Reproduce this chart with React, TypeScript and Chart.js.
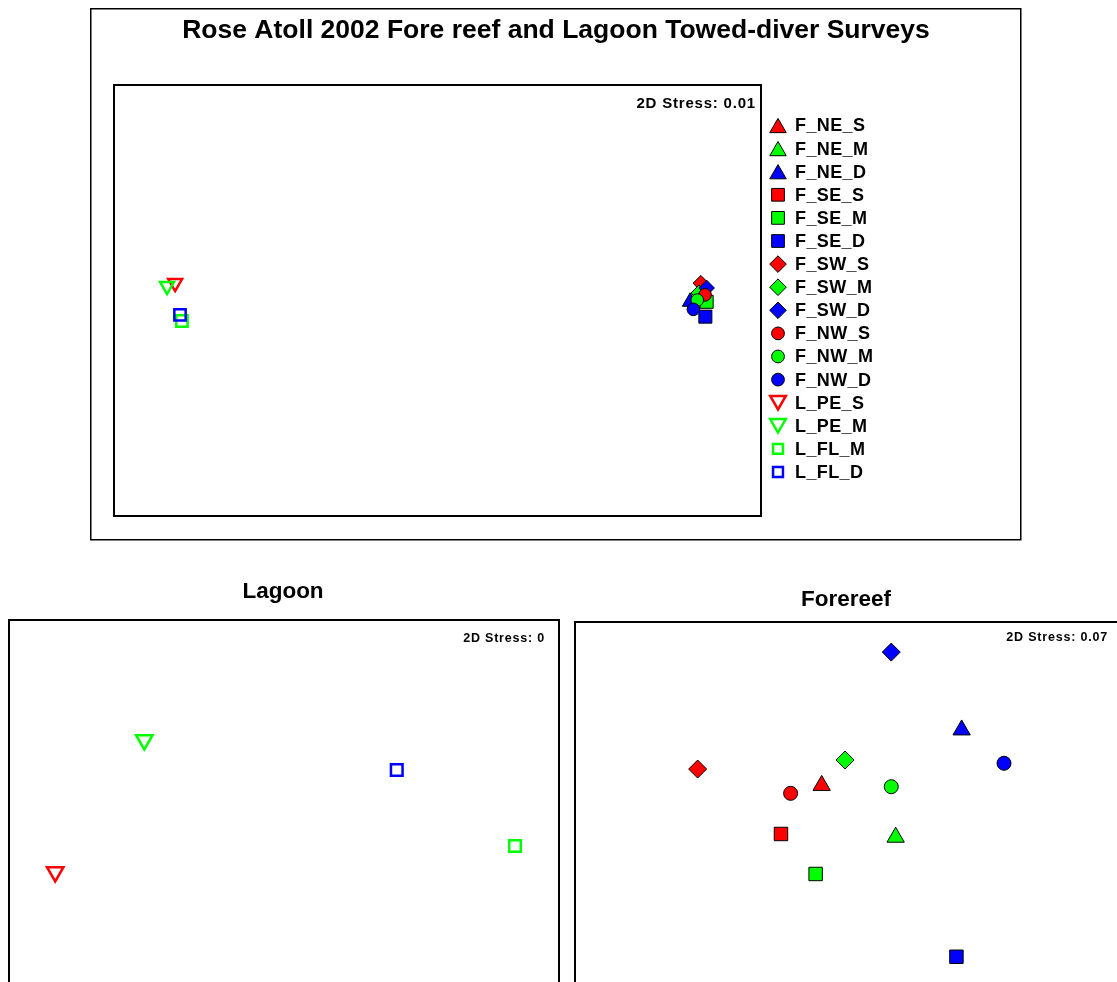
import React, { useEffect, useRef } from 'react';
import { Chart, registerables } from 'chart.js';
import { drawPoint } from 'chart.js/helpers';

Chart.register(...registerables);

const RED = '#ff0000';
const GREEN = '#00ff00';
const BLUE = '#0000ff';

// All sites (combined ordination)
const siteNames = ['F_NE_S', 'F_NE_M', 'F_NE_D', 'F_SE_S', 'F_SE_M', 'F_SE_D', 'F_SW_S', 'F_SW_M', 'F_SW_D', 'F_NW_S', 'F_NW_M', 'F_NW_D', 'L_PE_S', 'L_PE_M', 'L_FL_M', 'L_FL_D'];
const siteColors = [RED, GREEN, BLUE, RED, GREEN, BLUE, RED, GREEN, BLUE, RED, GREEN, BLUE, RED, GREEN, GREEN, BLUE];
const siteShapes = ['triangle', 'triangle', 'triangle', 'rect', 'rect', 'rect', 'rectRot', 'rectRot', 'rectRot', 'circle', 'circle', 'circle', 'triangleDown', 'triangleDown', 'rect', 'rect'];
const siteFilled = [true, true, true, true, true, true, true, true, true, true, true, true, false, false, false, false];

const combinedX = [0.813, 0.805, 0.781, 0.818, 0.832, 0.828, 0.814, 0.808, 0.832, 0.827, 0.803, 0.791, -0.811, -0.836, -0.790, -0.796];
const combinedY = [0.018, -0.004, -0.006, 0.010, -0.006, -0.075, 0.080, 0.035, 0.058, 0.026, 0.002, -0.041, 0.081, 0.067, -0.095, -0.067];

// Lagoon-only ordination
const lagoonNames = ['L_PE_S', 'L_PE_M', 'L_FL_M', 'L_FL_D'];
const lagoonX = [-0.832, -0.508, 0.840, 0.410];
const lagoonY = [-0.172, 0.442, -0.051, 0.302];

// Forereef-only ordination
const forereefNames = ['F_NE_S', 'F_NE_M', 'F_NE_D', 'F_SE_S', 'F_SE_M', 'F_SE_D', 'F_SW_S', 'F_SW_M', 'F_SW_D', 'F_NW_S', 'F_NW_M', 'F_NW_D'];
const forereefX = [-0.103, 0.166, 0.406, -0.251, -0.125, 0.387, -0.554, -0.018, 0.150, -0.216, 0.150, 0.560];
const forereefY = [0.240, -0.001, 0.498, 0.014, -0.172, -0.557, 0.316, 0.358, 0.860, 0.203, 0.234, 0.343];

const stressLabels = ['2D Stress: 0.01', '2D Stress: 0', '2D Stress: 0.07'];
const titles = ['Rose Atoll 2002 Fore reef and Lagoon Towed-diver Surveys', 'Lagoon', 'Forereef'];

const FONT = '"Liberation Sans", Arial, Helvetica, sans-serif';

type Sizes = { triangle: number; rect: number; rectRot: number; circle: number; triangleDown: number; openRect: number };

function styleFor(name: string, sizes: Sizes) {
  const i = siteNames.indexOf(name);
  const shape = siteShapes[i];
  const filled = siteFilled[i];
  const color = siteColors[i];
  let pointStyle = shape;
  let rotation = 0;
  let radius = 6;
  if (shape === 'triangleDown') { pointStyle = 'triangle'; rotation = 180; radius = sizes.triangleDown; }
  else if (shape === 'rect') radius = filled ? sizes.rect : sizes.openRect;
  else radius = (sizes as any)[shape];
  return {
    pointStyle,
    rotation,
    radius,
    backgroundColor: filled ? color : 'rgba(0,0,0,0)',
    borderColor: filled ? '#000000' : color,
    borderWidth: filled ? 1 : 2.5,
  };
}

function makeDatasets(names: string[], xs: number[], ys: number[], sizes: Sizes) {
  return names.map((n, i) => {
    const s = styleFor(n, sizes);
    return {
      label: n,
      order: names.length - i,
      data: [{ x: xs[i], y: ys[i] }],
      pointStyle: s.pointStyle,
      rotation: s.rotation,
      pointRotation: s.rotation,
      pointRadius: s.radius,
      pointHoverRadius: s.radius,
      backgroundColor: s.backgroundColor,
      borderColor: s.borderColor,
      borderWidth: s.borderWidth,
      pointBorderWidth: s.borderWidth,
    };
  });
}

const decorPlugin = {
  id: 'decor',
  afterDraw(chart: any, _args: any, opts: any) {
    const ctx = chart.ctx;
    const a = chart.chartArea;
    ctx.save();
    ctx.strokeStyle = '#000';
    ctx.lineWidth = 2;
    ctx.strokeRect(a.left, a.top, a.right - a.left, a.bottom - a.top);
    if (opts.outer) {
      ctx.lineWidth = 1.5;
      ctx.strokeRect(opts.outer[0], opts.outer[1], opts.outer[2], opts.outer[3]);
    }
    ctx.fillStyle = '#000';
    if (opts.title) {
      ctx.font = opts.title.font;
      ctx.textAlign = 'center';
      ctx.textBaseline = 'alphabetic';
      (ctx as any).letterSpacing = opts.title.spacing || '0px';
      ctx.fillText(opts.title.text, opts.title.x, opts.title.y);
    }
    if (opts.stress) {
      ctx.font = opts.stress.font;
      ctx.textAlign = 'right';
      ctx.textBaseline = 'alphabetic';
      (ctx as any).letterSpacing = opts.stress.spacing || '0.8px';
      ctx.fillText(opts.stress.text, opts.stress.x, opts.stress.y);
    }
    if (opts.legend) {
      const L = opts.legend;
      siteNames.forEach((n, i) => {
        const y = L.y0 + L.step * i;
        const s = styleFor(n, L.sizes);
        ctx.fillStyle = s.backgroundColor;
        ctx.strokeStyle = s.borderColor;
        ctx.lineWidth = s.borderWidth;
        const dy = s.pointStyle === 'triangle' ? (s.rotation ? -s.radius / 4 : s.radius / 4) : 0;
        drawPoint(ctx, { pointStyle: s.pointStyle, rotation: s.rotation, radius: s.radius, borderWidth: s.borderWidth } as any, L.mx, y + dy);
        ctx.fillStyle = '#000';
        ctx.font = L.font;
        ctx.textAlign = 'left';
        ctx.textBaseline = 'middle';
        (ctx as any).letterSpacing = '0.4px';
        ctx.fillText(n, L.tx, y + 1);
      });
    }
    ctx.restore();
  },
};

function baseOptions(padding: any, decor: any) {
  return {
    responsive: false,
    animation: false as const,
    events: [],
    layout: { padding, autoPadding: false },
    scales: {
      x: { type: 'linear' as const, min: -1, max: 1, display: false },
      y: { type: 'linear' as const, min: -1, max: 1, display: false },
    },
    plugins: {
      legend: { display: false },
      tooltip: { enabled: false },
      title: { display: false },
      decor,
    },
  };
}

function ScatterCanvas(props: { left: number; top: number; width: number; height: number; build: () => any }) {
  const ref = useRef<HTMLCanvasElement | null>(null);
  useEffect(() => {
    if (!ref.current) return;
    const chart = new Chart(ref.current, props.build());
    return () => chart.destroy();
  }, []);
  return (
    <canvas
      ref={ref}
      width={props.width}
      height={props.height}
      style={{ position: 'absolute', left: props.left, top: props.top, width: props.width, height: props.height }}
    />
  );
}

const topSizes: Sizes = { triangle: 9, rect: 9.2, rectRot: 7.8, circle: 6.3, triangleDown: 8, openRect: 8 };
const legendSizes: Sizes = { triangle: 9.5, rect: 9, rectRot: 8.3, circle: 6.4, triangleDown: 9, openRect: 7 };
const lagoonSizes: Sizes = { triangle: 9, rect: 9, rectRot: 9, circle: 7, triangleDown: 9.5, openRect: 8.2 };
const foreSizes: Sizes = { triangle: 10, rect: 9.5, rectRot: 9, circle: 7, triangleDown: 9, openRect: 8 };

export default function App() {
  return (
    <div style={{ position: 'absolute', left: 0, top: 0, width: 1117, height: 982, overflow: 'hidden', background: '#fff' }}>
      <ScatterCanvas
        left={90}
        top={8}
        width={932}
        height={534}
        build={() => ({
          type: 'scatter',
          data: { datasets: makeDatasets(siteNames, combinedX, combinedY, topSizes) },
          options: baseOptions(
            { left: 24, top: 77, right: 932 - 671, bottom: 534 - 508 },
            {
              outer: [0.75, 0.75, 930, 531],
              title: { text: titles[0], x: 466, y: 30, font: `bold 26.5px ${FONT}` },
              stress: { text: stressLabels[0], x: 666, y: 100, font: `bold 15px ${FONT}`, spacing: '0.8px' },
              legend: { y0: 117.5, step: 23.1, mx: 688, tx: 705, font: `bold 18px ${FONT}`, sizes: legendSizes },
            }
          ),
          plugins: [decorPlugin],
        })}
      />
      <ScatterCanvas
        left={0}
        top={560}
        width={560}
        height={500}
        build={() => ({
          type: 'scatter',
          data: { datasets: makeDatasets(lagoonNames, lagoonX, lagoonY, lagoonSizes) },
          options: baseOptions(
            { left: 9, top: 60, right: 1, bottom: 10 },
            {
              title: { text: titles[1], x: 283, y: 38, font: `bold 22.5px ${FONT}` },
              stress: { text: stressLabels[1], x: 545, y: 82, font: `bold 12.5px ${FONT}` },
            }
          ),
          plugins: [decorPlugin],
        })}
      />
      <ScatterCanvas
        left={565}
        top={560}
        width={580}
        height={500}
        build={() => ({
          type: 'scatter',
          data: { datasets: makeDatasets(forereefNames, forereefX, forereefY, foreSizes) },
          options: baseOptions(
            { left: 10, top: 62, right: 20, bottom: 8 },
            {
              title: { text: titles[2], x: 281, y: 46, font: `bold 22.5px ${FONT}` },
              stress: { text: stressLabels[2], x: 543, y: 81, font: `bold 12.5px ${FONT}` },
            }
          ),
          plugins: [decorPlugin],
        })}
      />
    </div>
  );
}
